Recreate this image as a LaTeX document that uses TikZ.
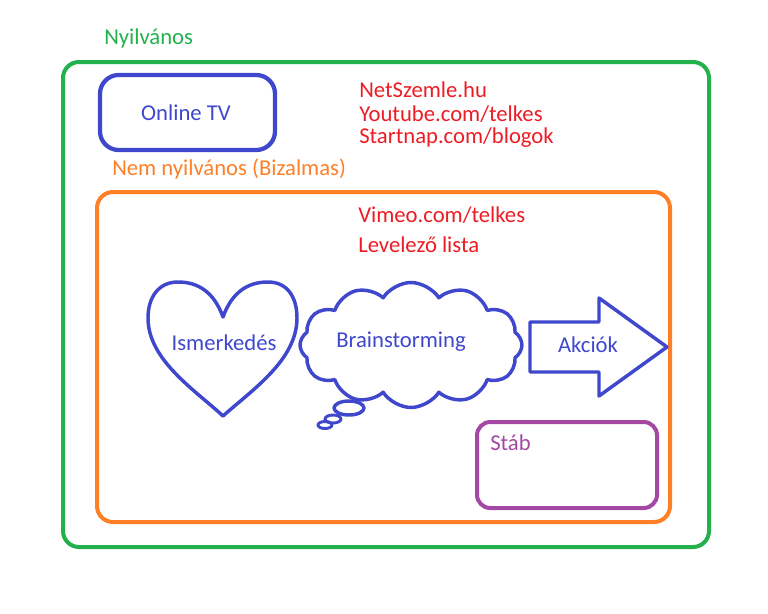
\documentclass[tikz,border=0pt]{standalone}
\usepackage{fontspec}
\setmainfont{Carlito}
\usetikzlibrary{shapes.symbols}
\definecolor{pgreen}{RGB}{34,177,76}
\definecolor{porange}{RGB}{255,127,39}
\definecolor{pblue}{RGB}{63,72,204}
\definecolor{pred}{RGB}{237,28,36}
\definecolor{ppurple}{RGB}{163,73,164}
\tikzset{
  lbl/.style={font=\fontsize{17}{20}\selectfont, inner sep=0pt},
  frame/.style={line width=3pt, rounded corners=12pt},
  shp/.style={draw=pblue, line width=2.6pt, line join=round},
}
\begin{document}
\begin{tikzpicture}[x=0.75pt,y=-0.75pt]
\useasboundingbox (0,0) rectangle (768,614);
% outer frames
\draw[frame, draw=pgreen] (63,62) rectangle (709,547);
\node[lbl, text=pgreen, anchor=west] (nyil) at (104,38) {Nyilvános};
\draw[frame, draw=pblue, line width=3.2pt, rounded corners=14pt] (100,75) rectangle (275,150);
\node[lbl, text=pblue] (otv) at (186,113) {Online TV};
\node[lbl, text=pred, anchor=west] (n1) at (359,90) {NetSzemle.hu};
\node[lbl, text=pred, anchor=west] (n2) at (359,114) {Youtube.com/telkes};
\node[lbl, text=pred, anchor=west] (n3) at (359,138) {Startnap.com/blogok};
\node[lbl, text=porange, anchor=west] (nemny) at (112,169) {Nem nyilvános (Bizalmas)};
\draw[frame, draw=porange] (97,192) rectangle (670,522);
\node[lbl, text=pred, anchor=west] (v1) at (358,215) {Vimeo.com/telkes};
\node[lbl, text=pred, anchor=west] (v2) at (358,245) {Levelező lista};
% heart
\draw[shp] (223,317) .. controls (214,292) and (198,282) .. (178,282)
  .. controls (158,282) and (148,298) .. (148,318)
  .. controls (148,360) and (195,390) .. (223,416)
  .. controls (252,390) and (297,360) .. (297,318)
  .. controls (297,298) and (288,282) .. (268,282)
  .. controls (248,282) and (232,292) .. (223,317) -- cycle;
\node[lbl, text=pblue] (ism) at (224,343) {Ismerkedés};
% cloud
\node[shp, cloud, cloud puffs=12, cloud puff arc=115, aspect=1.75,
  minimum width=222*0.75pt, minimum height=125*0.75pt, inner sep=0pt] (cl) at (411,345) {};
\node[lbl, text=pblue] (brain) at (401,342) {Brainstorming};
\draw[shp] (349,408) ellipse [x radius=15, y radius=7];
\draw[shp, line width=2.2pt] (333,419) ellipse [x radius=8, y radius=4];
\draw[shp, line width=2.2pt] (325,425) ellipse [x radius=7, y radius=3.5];
% arrow
\draw[shp] (530,322) -- (599,322) -- (599,298) -- (667,347) -- (599,396) -- (599,372) -- (530,372) -- cycle;
\node[lbl, text=pblue] (akc) at (588,345) {Akciók};
% stab
\draw[frame, draw=ppurple, rounded corners=10pt] (477,422) rectangle (657,508);
\node[lbl, text=ppurple, anchor=west] (stab) at (490,443) {Stáb};
\end{tikzpicture}
\end{document}
